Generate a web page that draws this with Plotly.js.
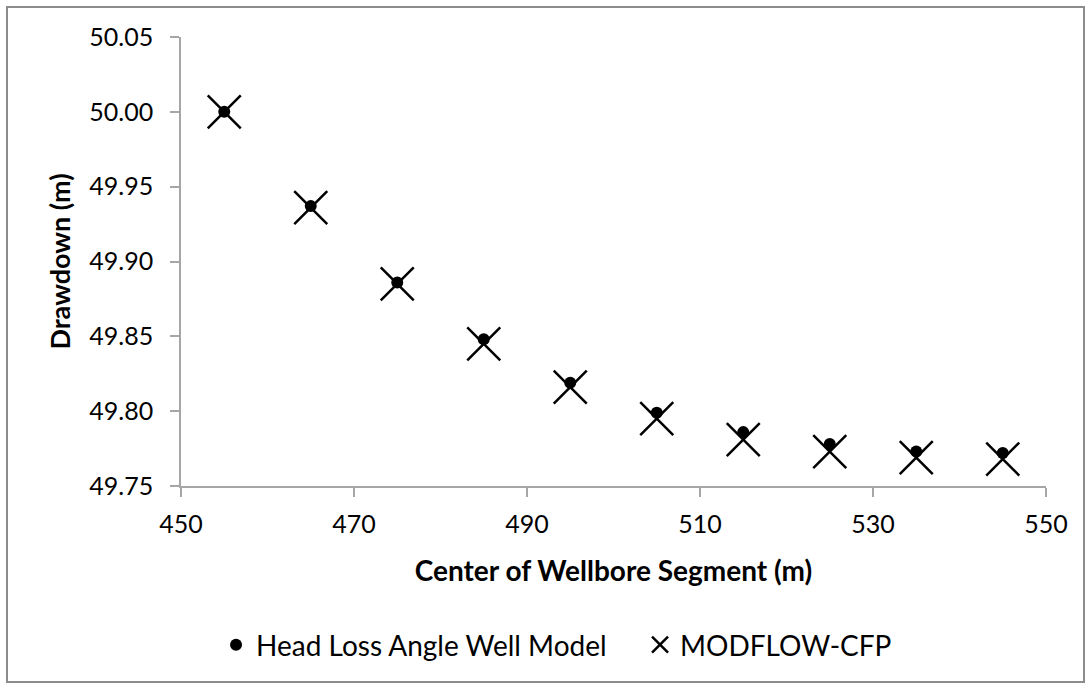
<!DOCTYPE html>
<html>
<head>
<meta charset="utf-8">
<script src="https://cdn.plot.ly/plotly-3.0.1.min.js"></script>
<style>
  html, body { margin: 0; padding: 0; background: #ffffff; }
  #chart { width: 1091px; height: 686px; }
</style>
</head>
<body>
<div id="chart"></div>
<script>
// Center of each wellbore segment (m)
const segmentCenters = [455, 465, 475, 485, 495, 505, 515, 525, 535, 545];

// Drawdown (m) from the head-loss angle well model
const headLossDrawdown = [50.000, 49.937, 49.886, 49.848, 49.819, 49.799, 49.786, 49.778, 49.773, 49.772];

// Drawdown (m) from MODFLOW-CFP
const modflowDrawdown = [50.000, 49.936, 49.885, 49.845, 49.816, 49.795, 49.781, 49.773, 49.769, 49.768];

const seriesNames = ['Head Loss Angle Well Model', 'MODFLOW-CFP'];

const xTicks = [450, 470, 490, 510, 530, 550];
const yTicks = [49.75, 49.80, 49.85, 49.90, 49.95, 50.00, 50.05];

const FONT = 'Lato, "Open Sans", sans-serif';

const traces = [
  {
    x: segmentCenters,
    y: headLossDrawdown,
    name: seriesNames[0],
    type: 'scatter',
    mode: 'markers',
    marker: { symbol: 'circle', size: 12, color: '#000000' },
    hoverinfo: 'x+y+name'
  },
  {
    x: segmentCenters,
    y: modflowDrawdown,
    name: seriesNames[1],
    type: 'scatter',
    mode: 'markers',
    marker: {
      symbol: 'x-thin',
      size: 33,
      color: '#000000',
      line: { color: '#000000', width: 2.5 }
    },
    hoverinfo: 'x+y+name'
  }
];

const axisGray = '#a6a6a6';

const layout = {
  width: 1091,
  height: 686,
  margin: { l: 181, r: 45, t: 37, b: 200, pad: 0 },
  paper_bgcolor: '#ffffff',
  plot_bgcolor: '#ffffff',
  font: { family: FONT, color: '#000000', size: 25 },
  showlegend: true,
  xaxis: {
    range: [450, 550],
    tickvals: xTicks,
    ticktext: xTicks.map(v => String(v)),
    showgrid: false,
    zeroline: false,
    showline: true,
    linecolor: axisGray,
    linewidth: 1.5,
    ticks: 'outside',
    ticklen: 9,
    tickwidth: 1.5,
    tickcolor: axisGray,
    ticklabelstandoff: 6,
    tickfont: { family: FONT, size: 25, color: '#000000' },
    automargin: false,
    fixedrange: true,
    title: {
      text: '<b>Center of Wellbore Segment (m)</b>',
      font: { family: FONT, size: 28, color: '#000000' },
      standoff: 25
    }
  },
  yaxis: {
    range: [49.75, 50.05],
    tickvals: yTicks,
    ticktext: yTicks.map(v => v.toFixed(2)),
    showgrid: false,
    zeroline: false,
    showline: true,
    linecolor: axisGray,
    linewidth: 1.5,
    ticks: 'outside',
    ticklen: 9,
    tickwidth: 1.5,
    tickcolor: axisGray,
    ticklabelstandoff: 12,
    tickfont: { family: FONT, size: 25, color: '#000000' },
    automargin: false,
    fixedrange: true,
    title: {
      text: '<b>Drawdown (m)</b>',
      font: { family: FONT, size: 27, color: '#000000' },
      standoff: 11
    }
  },
  legend: {
    orientation: 'h',
    x: 0.0405,
    xanchor: 'left',
    y: -0.354,
    yanchor: 'middle',
    font: { family: FONT, size: 28, color: '#000000' },
    bgcolor: 'rgba(0,0,0,0)',
    itemwidth: 30,
    entrywidth: 379,
    entrywidthmode: 'pixels',
    tracegroupgap: 0
  },
  shapes: [
    {
      type: 'rect',
      xref: 'paper', yref: 'paper',
      x0: -0.20116, x1: 1.04393,
      y0: -0.43653, y1: 1.06682,
      line: { color: '#8c8c8c', width: 2 },
      fillcolor: 'rgba(0,0,0,0)',
      layer: 'below'
    }
  ]
};

Plotly.newPlot('chart', traces, layout, { displayModeBar: false, staticPlot: false, responsive: false });
</script>
</body>
</html>
